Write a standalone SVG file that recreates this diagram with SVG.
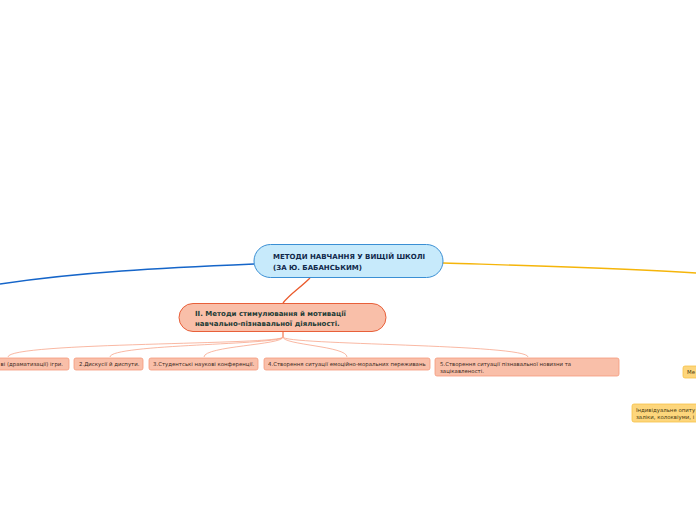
<svg xmlns="http://www.w3.org/2000/svg" width="696" height="520" viewBox="0 0 696 520">
<style>
.t{font-family:"DejaVu Sans",sans-serif}
.main{fill:#c7eafb;stroke:#3a8fd4;stroke-width:1}
.mt{font-size:7px;font-weight:bold;fill:#10284a}
.sub{fill:#f9bfa9;stroke:#e8603a;stroke-width:1}
.st{font-size:7px;font-weight:bold;fill:#1d3b36}
.leaf{fill:#f9bfa9;stroke:#f59b7c;stroke-width:0.8}
.lt{font-size:5.4px;fill:#3a2a22}
.y{fill:#fdd67c;stroke:#f6c246;stroke-width:0.8}
.yt{font-size:5.4px;fill:#4a3a10}
.lc{fill:none;stroke:#f8a68b;stroke-width:0.8}
</style>
<rect width="696" height="520" fill="#ffffff"/>
<g id="connectors">
<path d="M254,264 C160,268 80,272 0,284" fill="none" stroke="#1565c9" stroke-width="1.5"/>
<path d="M443,263 C540,266 620,268 696,273" fill="none" stroke="#f5b50a" stroke-width="1.3"/>
<path d="M310,278 C300,288 290,294 283,303" fill="none" stroke="#ea5a2c" stroke-width="1.3"/>
<path class="lc" d="M283,332 L283,337 C283,345 8,342 8,357"/>
<path class="lc" d="M283,332 L283,337 C283,345 110,344 110,357"/>
<path class="lc" d="M283,332 L283,337 C283,345 204,346 204,357"/>
<path class="lc" d="M283,332 L283,337 C283,345 347,346 347,357"/>
<path class="lc" d="M283,332 L283,337 C283,345 528,344 528,357"/>
</g>
<g id="root">
<rect class="main" x="254" y="244.5" width="189" height="33" rx="16.5"/>
<text class="t mt" x="273" y="259">МЕТОДИ НАВЧАННЯ У ВИЩІЙ ШКОЛІ</text>
<text class="t mt" x="273" y="270">(ЗА Ю. БАБАНСЬКИМ)</text>
</g>
<g id="n2">
<rect class="sub" x="179" y="303.5" width="207" height="28" rx="14"/>
<text class="t st" x="195" y="316">ІІ. Методи стимулювання й мотивації</text>
<text class="t st" x="195" y="325.5">навчально-пізнавальної діяльності.</text>
</g>
<g id="c1">
<rect class="leaf" x="-60" y="358" width="129" height="12" rx="2"/>
<text class="t lt" x="0.5" y="366">ві (драматизації) ігри.</text>
</g>
<g id="c2">
<rect class="leaf" x="74" y="358" width="69" height="12" rx="2"/>
<text class="t lt" x="79" y="366">2.Дискусії й диспути.</text>
</g>
<g id="c3">
<rect class="leaf" x="149" y="358" width="109" height="12" rx="2"/>
<text class="t lt" x="153" y="366">3.Студентські наукові конференції.</text>
</g>
<g id="c4">
<rect class="leaf" x="264" y="358" width="166" height="12" rx="2"/>
<text class="t lt" x="268" y="366">4.Створення ситуації емоційно-моральних переживань</text>
</g>
<g id="c5">
<rect class="leaf" x="435" y="358" width="184" height="18" rx="2"/>
<text class="t lt" x="440" y="366">5.Створення ситуації пізнавальної новизни та</text>
<text class="t lt" x="440" y="372.5">зацікавленості.</text>
</g>
<g id="y1">
<rect class="y" x="683" y="366" width="80" height="12" rx="2"/>
<text class="t yt" x="687" y="374">Ме</text>
</g>
<g id="y2">
<rect class="y" x="632" y="404" width="150" height="18" rx="2"/>
<text class="t yt" x="636" y="412">Індивідуальне опиту</text>
<text class="t yt" x="636" y="418.5">заліки, колоквіуми, і</text>
</g>
</svg>
